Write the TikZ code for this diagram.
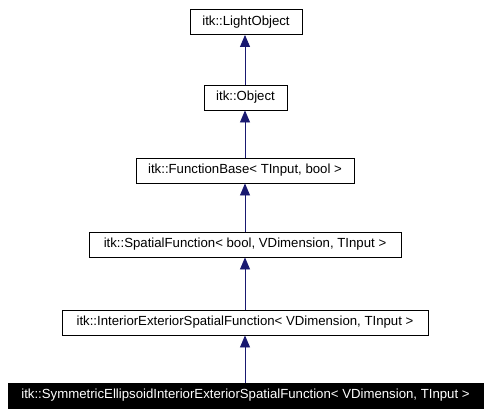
\documentclass[tikz,border=0pt]{standalone}
\usepackage{fontspec}
\setmainfont{Liberation Sans}
\usepackage{tikz}
\usetikzlibrary{arrows.meta, positioning}
\definecolor{edgeblue}{HTML}{191970}

\begin{document}
\begin{tikzpicture}[x=1pt, y=-1pt, font=\fontsize{13.2}{15}\selectfont,
    cls/.style={draw, line width=0.9pt, minimum height=25pt, inner sep=0pt, anchor=center},
    cur/.style={cls, fill=black, text=white},
    arrow/.style={-{Triangle[length=12pt, width=10pt]}, draw=edgeblue, fill=edgeblue, line width=0.9pt}
]
    \useasboundingbox (0,0) rectangle (490,415);
    \node[cls, minimum width=112pt] (lightobj) at (246,22) {itk::LightObject};
    \node[cls, minimum width=83pt] (obj) at (245.5,97.5) {itk::Object};
    \node[cls, minimum width=218pt] (funcbase) at (245,170.5) {itk::FunctionBase< TInput, bool >};
    \node[cls, minimum width=312pt] (spatial) at (245,244.5) {itk::SpatialFunction< bool, VDimension, TInput >};
    \node[cls, minimum width=366pt] (intext) at (245,322.5) {itk::InteriorExteriorSpatialFunction< VDimension, TInput >};
    \node[cur, minimum width=475pt] (symell) at (245.5,395.5) {itk::SymmetricEllipsoidInteriorExteriorSpatialFunction< VDimension, TInput >};
    \draw[arrow] (obj.north -| funcbase.north) -- (lightobj.south -| funcbase.north);
    \draw[arrow] (funcbase.north) -- (obj.south -| funcbase.north);
    \draw[arrow] (spatial.north) -- (funcbase.south);
    \draw[arrow] (intext.north) -- (spatial.south);
    \draw[arrow] (symell.north -| intext.south) -- (intext.south);
\end{tikzpicture}
\end{document}
